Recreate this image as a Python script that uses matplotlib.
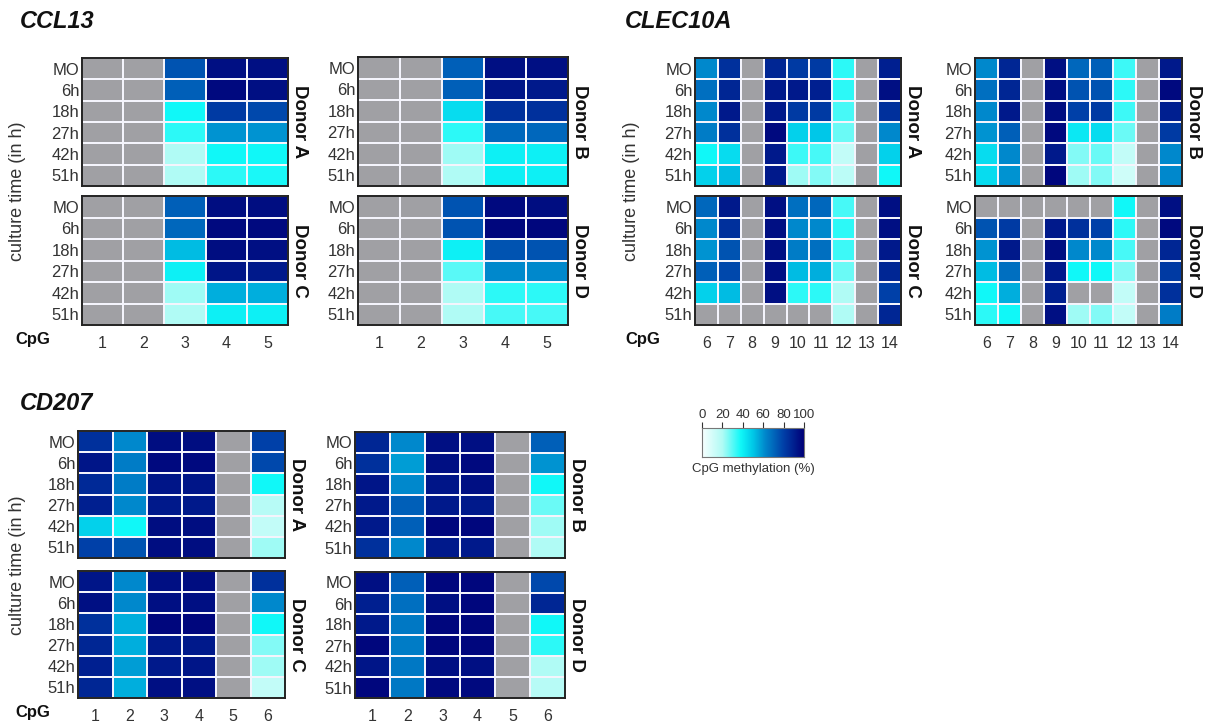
import matplotlib.pyplot as plt
import numpy as np
from matplotlib.colors import LinearSegmentedColormap

nan = np.nan

time_labels = ["MO", "6h", "18h", "27h", "42h", "51h"]

ccl13_cpg = [1, 2, 3, 4, 5]
ccl13_a = [[nan, nan, 75, 95, 95],
           [nan, nan, 72, 97, 95],
           [nan, nan, 38, 82, 78],
           [nan, nan, 35, 60, 60],
           [nan, nan, 20, 38, 38],
           [nan, nan, 20, 35, 37]]
ccl13_b = [[nan, nan, 72, 95, 95],
           [nan, nan, 72, 93, 92],
           [nan, nan, 45, 85, 85],
           [nan, nan, 35, 70, 70],
           [nan, nan, 22, 40, 40],
           [nan, nan, 20, 40, 40]]
ccl13_c = [[nan, nan, 72, 96, 96],
           [nan, nan, 70, 97, 97],
           [nan, nan, 52, 96, 95],
           [nan, nan, 40, 93, 92],
           [nan, nan, 22, 55, 55],
           [nan, nan, 20, 40, 40]]
ccl13_d = [[nan, nan, 75, 97, 96],
           [nan, nan, 75, 98, 98],
           [nan, nan, 40, 75, 75],
           [nan, nan, 30, 62, 62],
           [nan, nan, 20, 35, 35],
           [nan, nan, 20, 32, 32]]

clec10a_cpg = [6, 7, 8, 9, 10, 11, 12, 13, 14]
clec10a_a = [[62, 85, nan, 88, 82, 82, 35, nan, 90],
             [68, 88, nan, 92, 92, 90, 35, nan, 95],
             [62, 92, nan, 92, 82, 82, 32, nan, 85],
             [65, 85, nan, 97, 48, 50, 28, nan, 62],
             [38, 45, nan, 92, 33, 32, 15, nan, 48],
             [48, 52, nan, 92, 22, 25, 17, nan, 38]]
clec10a_b = [[62, 88, nan, 95, 70, 72, 33, nan, 92],
             [68, 88, nan, 95, 75, 75, 35, nan, 97],
             [62, 92, nan, 96, 80, 82, 33, nan, 90],
             [60, 72, nan, 97, 42, 45, 28, nan, 82],
             [45, 62, nan, 92, 25, 28, 15, nan, 62],
             [45, 60, nan, 98, 22, 25, 12, nan, 62]]
clec10a_c = [[70, 92, nan, 95, 68, 70, 32, nan, 95],
             [62, 85, nan, 95, 62, 62, 35, nan, 95],
             [60, 75, nan, 95, 65, 68, 33, nan, 92],
             [72, 78, nan, 95, 52, 55, 28, nan, 88],
             [48, 52, nan, 95, 35, 35, 20, nan, 80],
             [nan, nan, nan, nan, nan, nan, 20, nan, 88]]
clec10a_d = [[nan, nan, nan, nan, nan, nan, 38, nan, 95],
             [75, 82, nan, 92, 85, 80, 35, nan, 97],
             [60, 92, nan, 96, 62, 62, 32, nan, 88],
             [52, 68, nan, 92, 38, 38, 25, nan, 82],
             [38, 55, nan, 90, nan, nan, 15, nan, 85],
             [35, 38, nan, 95, 22, 25, 15, nan, 65]]

cd207_cpg = [1, 2, 3, 4, 5, 6]
cd207_a = [[85, 62, 96, 96, nan, 80],
           [93, 65, 97, 97, nan, 78],
           [87, 65, 93, 93, nan, 38],
           [90, 62, 92, 92, nan, 18],
           [48, 38, 96, 96, nan, 15],
           [80, 75, 96, 96, nan, 22]]
cd207_b = [[88, 62, 95, 95, nan, 72],
           [85, 58, 95, 97, nan, 60],
           [93, 62, 93, 95, nan, 38],
           [92, 72, 92, 92, nan, 28],
           [92, 72, 98, 98, nan, 22],
           [85, 62, 92, 92, nan, 20]]
cd207_c = [[93, 62, 95, 96, nan, 85],
           [95, 62, 95, 95, nan, 62],
           [85, 55, 98, 98, nan, 38],
           [88, 55, 92, 92, nan, 25],
           [90, 58, 92, 93, nan, 22],
           [88, 55, 95, 95, nan, 15]]
cd207_d = [[95, 72, 98, 98, nan, 78],
           [90, 68, 95, 98, nan, 88],
           [92, 66, 98, 98, nan, 38],
           [98, 65, 98, 98, nan, 35],
           [93, 66, 95, 95, nan, 20],
           [98, 66, 97, 97, nan, 18]]

methylation_cmap = LinearSegmentedColormap.from_list(
    "methylation",
    [(0.0, "#f8ffff"), (0.2, "#b0fbf5"), (0.38, "#10f8f8"), (0.5, "#00c8e8"),
     (0.62, "#0088cc"), (0.8, "#0040a8"), (1.0, "#000078")],
)
methylation_cmap.set_bad("#a0a0a4")

plt.rcParams["font.family"] = "Liberation Sans"
text_color = "#333333"

W, H = 1210, 722
fig = plt.figure(figsize=(W / 100, H / 100), dpi=100)


def px_axes(x0, y0, x1, y1):
    return fig.add_axes([x0 / W, 1 - y1 / H, (x1 - x0) / W, (y1 - y0) / H])


def heat_panel(box, values, cpgs, donor, show_x):
    ax = px_axes(*box)
    data = np.ma.masked_invalid(np.array(values, dtype=float))
    ax.pcolormesh(data, cmap=methylation_cmap, vmin=0, vmax=100,
                  edgecolors="#f4f4fc", linewidth=1.1)
    ax.set_xlim(0, len(cpgs))
    ax.set_ylim(len(time_labels), 0)
    ax.set_yticks(np.arange(len(time_labels)) + 0.5)
    ax.set_yticklabels(time_labels, fontsize=12, color=text_color)
    ax.tick_params(axis="y", length=0, pad=2)
    if show_x:
        ax.set_xticks(np.arange(len(cpgs)) + 0.5)
        ax.set_xticklabels([str(c) for c in cpgs], fontsize=11.5, color=text_color)
        ax.tick_params(axis="x", length=0, pad=8)
    else:
        ax.set_xticks([])
    for spine in ax.spines.values():
        spine.set_color("#222222")
        spine.set_linewidth(1.4)
    ax.text(1.015, 0.5, donor, transform=ax.transAxes, rotation=270,
            ha="left", va="center", fontsize=13.5, fontweight="bold", color="#111111")
    return ax


# CCL13
heat_panel((82, 58, 288, 186), ccl13_a, ccl13_cpg, "Donor A", False)
heat_panel((358, 57, 568, 186), ccl13_b, ccl13_cpg, "Donor B", False)
heat_panel((82, 196, 288, 325), ccl13_c, ccl13_cpg, "Donor C", True)
heat_panel((358, 196, 568, 325), ccl13_d, ccl13_cpg, "Donor D", True)

# CLEC10A
heat_panel((695, 58, 901, 186), clec10a_a, clec10a_cpg, "Donor A", False)
heat_panel((975, 58, 1182, 186), clec10a_b, clec10a_cpg, "Donor B", False)
heat_panel((695, 196, 901, 325), clec10a_c, clec10a_cpg, "Donor C", True)
heat_panel((975, 196, 1182, 325), clec10a_d, clec10a_cpg, "Donor D", True)

# CD207
heat_panel((78, 431, 285, 558), cd207_a, cd207_cpg, "Donor A", False)
heat_panel((355, 432, 565, 558), cd207_b, cd207_cpg, "Donor B", False)
heat_panel((78, 571, 285, 698), cd207_c, cd207_cpg, "Donor C", True)
heat_panel((355, 572, 565, 698), cd207_d, cd207_cpg, "Donor D", True)

# gene titles
for gx, gy, name in [(20, 22, "CCL13"), (625, 22, "CLEC10A"), (20, 403, "CD207")]:
    fig.text(gx / W, 1 - gy / H, name, fontsize=17, fontweight="bold",
             fontstyle="italic", ha="left", va="center", color="#111111")

# y axis captions
for lx, ly in [(18, 191), (631, 191), (18, 565)]:
    fig.text(lx / W, 1 - ly / H, "culture time (in h)", rotation=90,
             fontsize=13, ha="center", va="center", color=text_color)

# CpG captions
for cx, cy in [(15, 340), (625, 340), (15, 712)]:
    fig.text(cx / W, 1 - cy / H, "CpG", fontsize=12, fontweight="bold",
             ha="left", va="center", color="#111111")

# colour scale
cax = px_axes(702, 428, 804, 457)
gradient = np.linspace(0, 100, 256).reshape(1, -1)
cax.imshow(gradient, cmap=methylation_cmap, aspect="auto", extent=(0, 100, 0, 1),
           vmin=0, vmax=100)
cax.set_yticks([])
cax.set_xticks([0, 20, 40, 60, 80, 100])
cax.xaxis.set_ticks_position("top")
cax.tick_params(axis="x", labelsize=9.5, length=4, width=0.8, pad=1,
                colors=text_color)
for spine in cax.spines.values():
    spine.set_color("#777777")
    spine.set_linewidth(0.8)
fig.text(753 / W, 1 - 469 / H, "CpG methylation (%)", fontsize=9.5,
         ha="center", va="center", color=text_color)

fig.savefig("out.png", dpi=100)
